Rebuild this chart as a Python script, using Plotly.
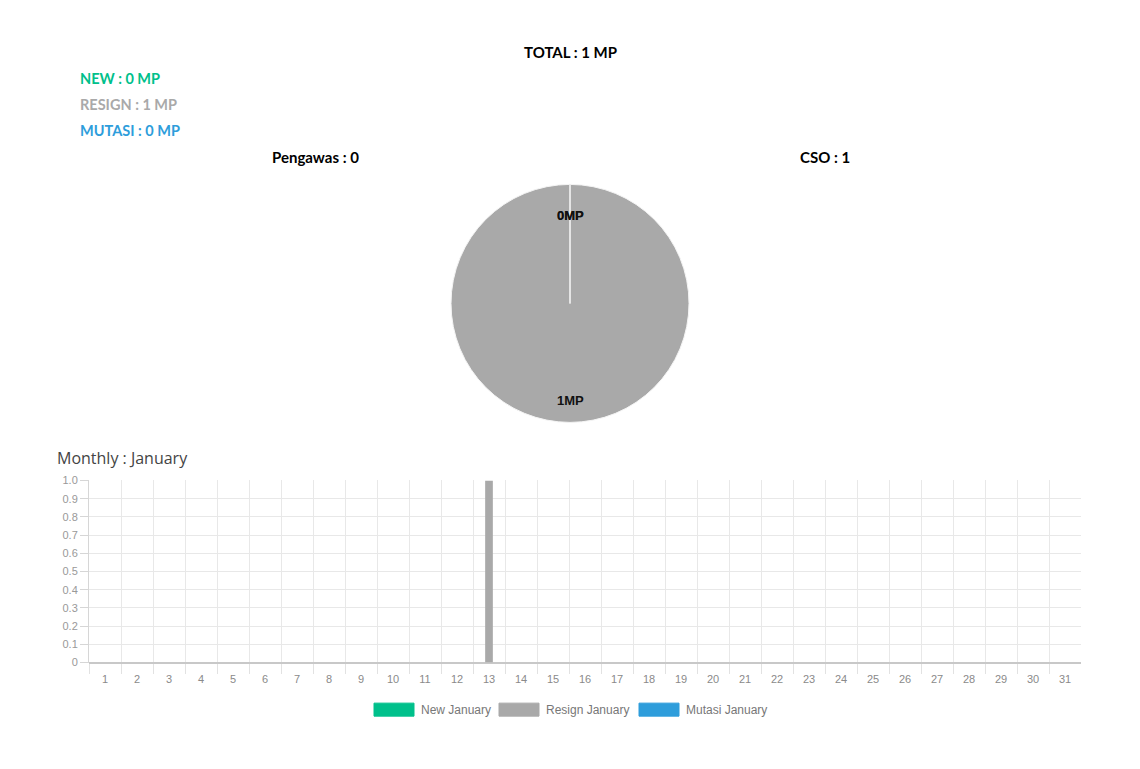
import math
import plotly.graph_objects as go

# ---- data ----
days = [str(d) for d in range(1, 32)]
new_jan = [0] * 31
resign_jan = [0] * 31
resign_jan[12] = 1
mutasi_jan = [0] * 31

series_names = ["New January", "Resign January", "Mutasi January"]
series_colors = ["#00c08b", "#a9a9a9", "#2e9ddb"]

pie_labels = ["New", "Resign", "Mutasi"]
pie_values = [0, 1, 0]
pie_colors = ["#00c08b", "#a9a9a9", "#2e9ddb"]

total_mp = 1
new_mp = 0
resign_mp = 1
mutasi_mp = 0
pengawas = 0
cso = 1
month_name = "January"

y_ticks = [0, 0.1, 0.2, 0.3, 0.4, 0.5, 0.6, 0.7, 0.8, 0.9, 1.0]
y_ticktext = ["0", "0.1", "0.2", "0.3", "0.4", "0.5", "0.6", "0.7", "0.8", "0.9", "1.0"]

# page body has an 8px margin; keep the figure inside the window
M = 8
W, H = 1140 - 2 * M, 769 - 2 * M
# measured vertical correction of the rendered page
KY, AY = 0.9835, 5.9
def px(x):
    return (x - M) / W
def py(y):
    return 1 - ((y - AY) / KY - M) / H

fig = go.Figure()

# ---- pie ----
cx, cy, r = 570, 303, 119
fig.add_trace(go.Pie(
    labels=pie_labels, values=pie_values, sort=False, direction="clockwise",
    rotation=0, marker=dict(colors=pie_colors, line=dict(color="#f4f4f4", width=1)),
    textinfo="none", hoverinfo="label+value", showlegend=False,
    domain=dict(x=[px(cx - r), px(cx + r)], y=[py(cy + r), py(cy - r)]),
))

# pie labels at mid-angle of each slice
tot = sum(pie_values)
cum = 0
for v in pie_values:
    mid = (cum + v / 2) / tot * 2 * math.pi
    cum += v
    lx = cx + 0.815 * r * math.sin(mid)
    ly = cy - 0.815 * r * math.cos(mid)
    fig.add_annotation(x=px(lx), y=py(ly), xref="paper", yref="paper",
                       text=f"<b>{v}MP</b>", showarrow=False,
                       font=dict(family="Liberation Sans, Arial", size=13, color="#111"))
# slice boundary line at start angle
fig.add_shape(type="line", xref="paper", yref="paper",
              x0=px(cx), y0=py(cy), x1=px(cx), y1=py(cy - r),
              line=dict(color="#e6e6e6", width=1.5))

# ---- bar chart ----
for name, vals, col in zip(series_names, [new_jan, resign_jan, mutasi_jan], series_colors):
    fig.add_trace(go.Bar(
        x=days, y=vals, name=name, marker=dict(color=col, line=dict(width=0)),
        xaxis="x", yaxis="y", showlegend=False,
    ))

fig.update_layout(
    width=W, height=H,
    margin=dict(l=0, r=0, t=0, b=0),
    paper_bgcolor="white", plot_bgcolor="white",
    barmode="group", bargap=0.2, bargroupgap=0.1,
    showlegend=False,
    xaxis=dict(domain=[px(89), px(1081)], type="category", tickson="boundaries",
               showgrid=True, gridcolor="#e8e8e8", gridwidth=1,
               ticks="outside", ticklen=10, tickcolor="#e2e2e2",
               ticklabelstandoff=8,
               showline=False, zeroline=False,
               tickfont=dict(family="Liberation Sans, Arial", size=11, color="#8a8a8a"),
               anchor="y", fixedrange=True),
    yaxis=dict(domain=[py(662), py(480)], range=[0, 1.0], tickvals=y_ticks, ticktext=y_ticktext,
               showgrid=True, gridcolor="#e8e8e8", gridwidth=1,
               ticks="outside", ticklen=8, tickcolor="#d6d6d6",
               showline=True, linecolor="#d6d6d6", linewidth=1,
               zeroline=True, zerolinecolor="#c8c8c8", zerolinewidth=1.5,
               tickfont=dict(family="Liberation Sans, Arial", size=11, color="#999"),
               anchor="x", fixedrange=True),
)

# ---- custom legend (wide colour boxes) ----
leg_box_x = [374, 499, 639]
for name, col, bx in zip(series_names, series_colors, leg_box_x):
    fig.add_shape(type="rect", xref="paper", yref="paper",
                  x0=px(bx), x1=px(bx + 40), y0=py(715.5), y1=py(702.5),
                  fillcolor=col, line=dict(color=col, width=1))
    fig.add_annotation(x=px(bx + 45), y=py(709), xref="paper", yref="paper",
                       xanchor="left", yanchor="middle", text=name, showarrow=False,
                       font=dict(family="Liberation Sans, Arial", size=12, color="#777"))

# ---- text ----
tf = "Lato, Open Sans, sans-serif"
fig.add_annotation(x=px(570), y=py(52), xref="paper", yref="paper", xanchor="center", yanchor="middle",
                   text=f"<b>TOTAL : {total_mp} MP</b>", showarrow=False,
                   font=dict(family=tf, size=15, color="#000"))
for i, (lbl, val, col) in enumerate([("NEW", new_mp, "#00c08b"), ("RESIGN", resign_mp, "#a9a9a9"),
                                       ("MUTASI", mutasi_mp, "#2e9ddb")]):
    fig.add_annotation(x=px(78), y=py(78 + 26 * i), xref="paper", yref="paper", xanchor="left",
                       yanchor="middle", text=f"<b>{lbl} : {val} MP</b>", showarrow=False,
                       font=dict(family=tf, size=14.5, color=col))
fig.add_annotation(x=px(315), y=py(157), xref="paper", yref="paper", xanchor="center", yanchor="middle",
                   text=f"<b>Pengawas : {pengawas}</b>", showarrow=False,
                   font=dict(family=tf, size=15, color="#000"))
fig.add_annotation(x=px(825), y=py(157), xref="paper", yref="paper", xanchor="center", yanchor="middle",
                   text=f"<b>CSO : {cso}</b>", showarrow=False,
                   font=dict(family=tf, size=15, color="#000"))
fig.add_annotation(x=px(55), y=py(458), xref="paper", yref="paper", xanchor="left", yanchor="middle",
                   text=f"Monthly : {month_name}", showarrow=False,
                   font=dict(family="Open Sans, sans-serif", size=16, color="#444"))

fig.write_html("out.html", config=dict(displayModeBar=False))
